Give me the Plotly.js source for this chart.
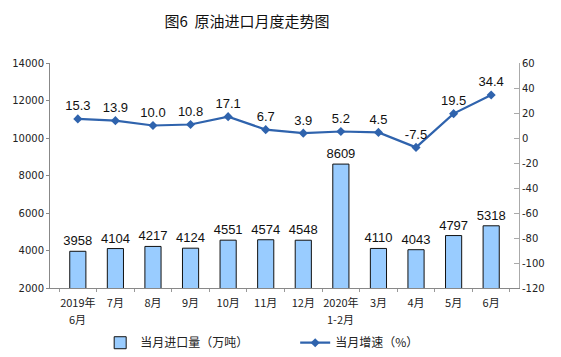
<!DOCTYPE html>
<html>
<head>
<meta charset="utf-8">
<script src="https://cdn.plot.ly/plotly-3.0.1.min.js"></script>
<style>html,body{margin:0;padding:0;background:#fff;}#chart{width:561px;height:357px;}</style>
</head>
<body>
<div id="chart"></div>
<script>
var categories = ["2019年|6月", "7月", "8月", "9月", "10月", "11月", "12月", "2020年|1-2月", "3月", "4月", "5月", "6月"];
var importVolume = [3958, 4104, 4217, 4124, 4551, 4574, 4548, 8609, 4110, 4043, 4797, 5318];
var growthRate = [15.3, 13.9, 10.0, 10.8, 17.1, 6.7, 3.9, 5.2, 4.5, -7.5, 19.5, 34.4];
var leftTicks = [2000, 4000, 6000, 8000, 10000, 12000, 14000];
var rightTicks = [-120, -100, -80, -60, -40, -20, 0, 20, 40, 60];

var numFont = {family: "Liberation Sans, Arial, sans-serif", size: 13, color: "#111"};
var cjk = "Noto Sans CJK SC, sans-serif";
var tickFontX = {family: cjk, size: 11, color: "#222"};

var firstLines = categories.map(function(c){ return c.split("|")[0]; });
var secondLineAnns = [];
categories.forEach(function(c){
  var p = c.split("|");
  if (p.length > 1) {
    secondLineAnns.push({x: c, xref: "x", y: 0, yref: "paper", yshift: -31,
      xanchor: "center", yanchor: "middle", showarrow: false, text: p[1], font: tickFontX});
  }
});

var traces = [
  {
    type: "bar", name: "当月进口量（万吨）",
    x: categories, y: importVolume,
    width: 0.43,
    marker: {color: "#99ccff", line: {color: "#111", width: 1}},
    text: importVolume.map(String), textposition: "outside",
    constraintext: "none",
    textfont: numFont, cliponaxis: false,
    yaxis: "y"
  },
  {
    type: "scatter", mode: "lines+markers+text", name: "当月增速（%）",
    x: categories, y: growthRate,
    line: {color: "#2f63ad", width: 2.2},
    marker: {symbol: "diamond", size: 7, color: "#2f63ad"},
    text: growthRate.map(function(v){return v.toFixed(1);}),
    textposition: "top center", textfont: numFont, cliponaxis: false,
    yaxis: "y2"
  }
];

var layout = {
  width: 561, height: 357,
  margin: {l: 50, r: 42, t: 63, b: 69},
  paper_bgcolor: "#fff", plot_bgcolor: "#fff",
  showlegend: true,
  title: {text: "图6  原油进口月度走势图", x: 247/561, xref: "container", xanchor: "center", y: 0.94, yanchor: "middle",
          font: {family: cjk, size: 15, color: "#111", weight: "normal"}},
  xaxis: {
    type: "category", showline: true, linecolor: "#888", linewidth: 1,
    ticks: "outside", tickson: "boundaries", ticklen: 3, tickcolor: "#999",
    tickvals: categories, ticktext: firstLines,
    tickangle: 0, automargin: false, ticklabelstandoff: 5,
    tickfont: tickFontX,
    showgrid: false, zeroline: false, fixedrange: true
  },
  yaxis: {
    range: [2000, 14000], tickvals: leftTicks, ticktext: leftTicks.map(String),
    showline: true, linecolor: "#888", linewidth: 1,
    ticks: "outside", ticklen: 3, tickcolor: "#888", automargin: false,
    tickfont: {family: "DejaVu Sans, sans-serif", size: 10, color: "#222"},
    showgrid: false, zeroline: false
  },
  yaxis2: {
    overlaying: "y", side: "right",
    range: [-120, 60], tickvals: rightTicks, ticktext: rightTicks.map(String),
    showline: true, linecolor: "#aaa", linewidth: 1,
    ticks: "inside", ticklen: 5, tickcolor: "#aaa", automargin: false,
    tickfont: {family: "DejaVu Sans, sans-serif", size: 10, color: "#222"},
    showgrid: false, zeroline: false
  },
  annotations: secondLineAnns,
  legend: {
    orientation: "h", x: 0.107, xanchor: "left",
    yref: "container", y: 0.04, yanchor: "middle",
    font: {family: cjk, size: 12, color: "#222"},
    entrywidth: 150, entrywidthmode: "pixels", bgcolor: "rgba(0,0,0,0)"
  }
};

Plotly.newPlot("chart", traces, layout, {displayModeBar: false, staticPlot: true});
</script>
</body>
</html>
